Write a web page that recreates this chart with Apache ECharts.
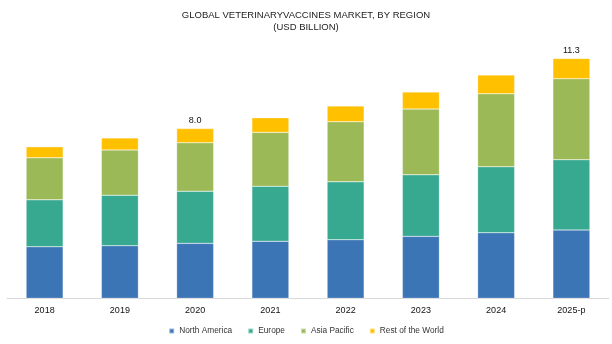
<!DOCTYPE html>
<html>
<head>
<meta charset="utf-8">
<script src="https://cdn.jsdelivr.net/npm/echarts@6/dist/echarts.min.js"></script>
<style>
  html, body { margin: 0; padding: 0; background: #ffffff; }
  #chart { width: 612px; height: 344px; }
</style>
</head>
<body>
<div id="chart"></div>
<script>
// Global veterinary vaccines market by region, USD billion
var years = ['2018', '2019', '2020', '2021', '2022', '2023', '2024', '2025-p'];
var northAmerica = [2.43, 2.48, 2.59, 2.69, 2.76, 2.92, 3.09, 3.22];
var europe       = [2.21, 2.38, 2.46, 2.59, 2.73, 2.90, 3.11, 3.31];
var asiaPacific  = [1.98, 2.13, 2.28, 2.54, 2.83, 3.10, 3.44, 3.82];
var restOfWorld  = [0.52, 0.57, 0.67, 0.69, 0.74, 0.80, 0.88, 0.95];
// years whose stacked total is printed above the bar
var labelledYears = ['2020', '2025-p'];

var totals = years.map(function (y, i) {
  return northAmerica[i] + europe[i] + asiaPacific[i] + restOfWorld[i];
});

var font = '"Liberation Sans", Arial, sans-serif';

function seg(name, data, color) {
  return {
    name: name,
    type: 'bar',
    stack: 'region',
    barWidth: 37,
    data: data,
    itemStyle: { color: color, borderColor: 'rgba(255,255,255,0.5)', borderWidth: 0.5 },
    emphasis: { disabled: true }
  };
}

var restSeries = seg('Rest of the World', restOfWorld.map(function (v, i) {
  if (labelledYears.indexOf(years[i]) >= 0) {
    return {
      value: v,
      label: {
        show: true,
        position: 'top',
        distance: 4,
        formatter: totals[i].toFixed(1),
        color: '#111',
        fontSize: 9,
        fontFamily: font
      }
    };
  }
  return v;
}), '#ffc000');

var chart = echarts.init(document.getElementById('chart'), null, { renderer: 'canvas' });
chart.setOption({
  animation: false,
  backgroundColor: '#ffffff',
  title: {
    text: 'GLOBAL VETERINARYVACCINES MARKET, BY REGION\n(USD BILLION)',
    left: 'center',
    top: 5,
    textStyle: {
      fontFamily: font,
      fontSize: 9.5,
      fontWeight: 'normal',
      color: '#222',
      lineHeight: 11.5
    }
  },
  legend: {
    bottom: 4,
    left: 'center',
    itemWidth: 5,
    itemHeight: 5,
    itemGap: 15,
    icon: 'rect',
    textStyle: { fontFamily: font, fontSize: 8.3, color: '#333' },
    data: ['North America', 'Europe', 'Asia Pacific', 'Rest of the World']
  },
  grid: { left: 7, right: 3, top: 43.7, bottom: 45.7 },
  xAxis: {
    type: 'category',
    data: years,
    axisLine: { lineStyle: { color: '#d9d9d9', width: 1 } },
    axisTick: { show: false },
    axisLabel: { fontFamily: font, fontSize: 9, color: '#111', margin: 8 }
  },
  yAxis: {
    type: 'value',
    min: 0,
    max: 12,
    show: false,
    splitLine: { show: false }
  },
  series: [
    seg('North America', northAmerica, '#3b75b6'),
    seg('Europe', europe, '#37a991'),
    seg('Asia Pacific', asiaPacific, '#9bba57'),
    restSeries
  ]
});
</script>
</body>
</html>
